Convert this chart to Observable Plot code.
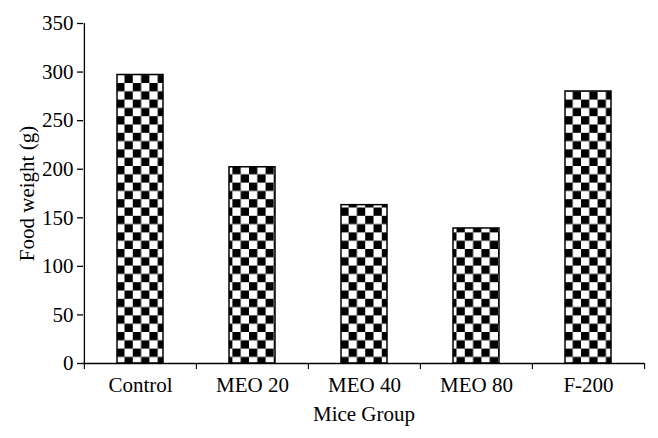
<!DOCTYPE html>
<html><head><meta charset="utf-8">
<script src="https://cdn.jsdelivr.net/npm/d3@7"></script>
<script src="https://cdn.jsdelivr.net/npm/@observablehq/plot@0.6"></script>
<style>body{margin:0;background:#fff;}</style>
</head><body><div id="chart"></div>
<script>
const groups = ["Control", "MEO 20", "MEO 40", "MEO 80", "F-200"];
const foodWeight = [297, 202, 163, 139, 280];
const yTicks = [0, 50, 100, 150, 200, 250, 300, 350];
const xLabel = "Mice Group";
const yLabel = "Food weight (g)";

const data = groups.map((g, i) => ({group: g, value: foodWeight[i]}));

const W = 658, H = 438, mL = 83, mR = 14, mT = 23, mB = 75;
const step = (W - mL - mR) / groups.length;
const FS = 21;

const chart = Plot.plot({
  width: W, height: H,
  marginLeft: mL, marginRight: mR, marginTop: mT, marginBottom: mB,
  style: {fontFamily: "'Liberation Serif', 'Times New Roman', serif", fontSize: FS + "px", color: "#000", background: "#fff"},
  x: {domain: groups, padding: 0, label: null},
  y: {domain: [0, 350], label: null},
  marks: [
    Plot.barY(data, {x: "group", y: "value", fill: "url(#checker)", stroke: "#000", strokeWidth: 1.5, insetLeft: 33, insetRight: 33}),
    Plot.axisY({ticks: yTicks, tickSize: 6, tickPadding: 4, label: null, strokeWidth: 1.3, fontSize: FS}),
    Plot.axisX({tickSize: 0, tickPadding: 14, label: null, fontSize: FS}),
    Plot.ruleY([0], {stroke: "#000", strokeWidth: 1.3}),
    Plot.ruleX([groups[0]], {x: d => d, dx: -step / 2, y1: 0, y2: 350, strokeWidth: 1.3}),
    Plot.ruleX(groups, {x: d => d, dx: -step / 2, y1: 0, y2: 0, insetBottom: -6, strokeWidth: 1.1}),
    Plot.ruleX([groups[groups.length - 1]], {x: d => d, dx: step / 2, y1: 0, y2: 0, insetBottom: -6, strokeWidth: 1.1}),
    Plot.text([yLabel], {text: d => d, frameAnchor: "left", textAnchor: "middle", rotate: -90, dx: -56, fontSize: FS}),
    Plot.text([xLabel], {text: d => d, frameAnchor: "bottom", textAnchor: "middle", dy: 57, fontSize: FS})
  ]
});

const svg = d3.select(chart);
const defs = svg.insert("defs", ":first-child");
const pat = defs.append("pattern").attr("id", "checker")
  .attr("patternUnits", "userSpaceOnUse").attr("width", 16.6).attr("height", 16.6);
pat.append("rect").attr("width", 16.6).attr("height", 16.6).attr("fill", "#fff");
pat.append("rect").attr("width", 8.3).attr("height", 8.3).attr("fill", "#000");
pat.append("rect").attr("x", 8.3).attr("y", 8.3).attr("width", 8.3).attr("height", 8.3).attr("fill", "#000");

document.getElementById("chart").appendChild(chart);
</script>
</body></html>
